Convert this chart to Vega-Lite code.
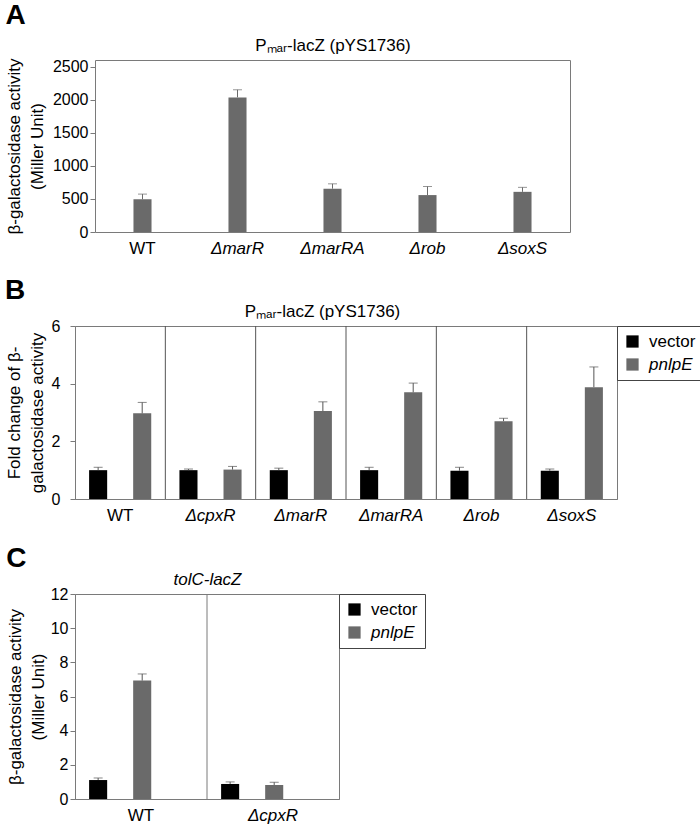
{
  "$schema": "https://vega.github.io/schema/vega-lite/v6.json",
  "padding": {"left": 4, "top": 2, "right": 0, "bottom": 0},
  "background": "white",
  "spacing": 20,
  "config": {
    "font": "Liberation Sans",
    "view": {"stroke": "#7a7a7a", "strokeWidth": 1},
    "axis": {"grid": false, "domainColor": "#7a7a7a", "tickColor": "#7a7a7a", "labelColor": "black", "titleColor": "black", "labelFontSize": 16, "titleFontSize": 17, "titleFontWeight": "normal"},
    "axisX": {"ticks": false, "labelAngle": 0, "labelFontSize": 17, "labelPadding": 8},
    "axisY": {"tickSize": 5, "labelPadding": 2, "titleLineHeight": 23, "titlePadding": 4},
    "title": {"fontWeight": "bold", "fontSize": 28, "color": "black", "anchor": "start", "frame": "bounds"},
    "legend": {"titleFontSize": 17}
  },
  "resolve": {"scale": {"color": "independent"}},
  "vconcat": [
    {
      "title": {"text": "A", "offset": 6},
      "width": 495,
      "height": 172,
      "view": {"stroke": null},
      "data": {"values": [
        {"strain": "WT", "mean": 495, "upper": 573},
        {"strain": "ΔmarR", "mean": 2035, "upper": 2150},
        {"strain": "ΔmarRA", "mean": 655, "upper": 728},
        {"strain": "Δrob", "mean": 558, "upper": 688},
        {"strain": "ΔsoxS", "mean": 607, "upper": 675}
      ]},
      "resolve": {"axis": {"x": "independent", "y": "independent"}},
      "layer": [
        {"mark": {"type": "bar", "color": "#6a6a6a"},
         "encoding": {
           "x": {"field": "strain", "type": "nominal", "sort": null, "title": null,
                 "scale": {"domain": ["WT", "ΔmarR", "ΔmarRA", "Δrob", "ΔsoxS"], "range": [20, 495], "paddingInner": 0.81, "paddingOuter": 0.405},
                 "axis": {"labelFontStyle": {"expr": "datum.value == 'WT' ? 'normal' : 'italic'"}}},
           "y": {"field": "mean", "type": "quantitative", "scale": {"domain": [0, 2500]},
                 "axis": {"values": [0, 500, 1000, 1500, 2000, 2500], "format": "d", "offset": -20, "titlePadding": 6, "title": ["β-galactosidase activity", "(Miller Unit)"]}}}},
        {"mark": {"type": "rule", "color": "#6a6a6a"},
         "encoding": {
           "x": {"field": "strain", "type": "nominal", "sort": null, "axis": null},
           "y": {"field": "mean", "type": "quantitative", "axis": null},
           "y2": {"field": "upper"}}},
        {"mark": {"type": "tick", "color": "#6a6a6a", "size": 9, "thickness": 1},
         "encoding": {
           "x": {"field": "strain", "type": "nominal", "sort": null,
                 "axis": {"orient": "top", "labels": false, "ticks": false, "domain": true, "title": "Pₘₐᵣ-lacZ (pYS1736)", "titlePadding": 6}},
           "y": {"field": "upper", "type": "quantitative",
                 "axis": {"orient": "right", "labels": false, "ticks": false, "domain": true, "title": null}}}}
      ]
    },
    {
      "title": {"text": "B", "offset": -3},
      "width": 542,
      "height": 173,
      "data": {"values": [
        {"strain": "WT", "plasmid": "vector", "mean": 1.0, "upper": 1.1},
        {"strain": "WT", "plasmid": "pnlpE", "mean": 2.97, "upper": 3.35},
        {"strain": "ΔcpxR", "plasmid": "vector", "mean": 1.0, "upper": 1.04},
        {"strain": "ΔcpxR", "plasmid": "pnlpE", "mean": 1.02, "upper": 1.13},
        {"strain": "ΔmarR", "plasmid": "vector", "mean": 1.0, "upper": 1.07},
        {"strain": "ΔmarR", "plasmid": "pnlpE", "mean": 3.05, "upper": 3.37},
        {"strain": "ΔmarRA", "plasmid": "vector", "mean": 1.0, "upper": 1.1},
        {"strain": "ΔmarRA", "plasmid": "pnlpE", "mean": 3.7, "upper": 4.02},
        {"strain": "Δrob", "plasmid": "vector", "mean": 0.98, "upper": 1.1},
        {"strain": "Δrob", "plasmid": "pnlpE", "mean": 2.7, "upper": 2.8},
        {"strain": "ΔsoxS", "plasmid": "vector", "mean": 0.98, "upper": 1.04},
        {"strain": "ΔsoxS", "plasmid": "pnlpE", "mean": 3.88, "upper": 4.58}
      ]},
      "resolve": {"axis": {"x": "independent"}},
      "layer": [
        {"mark": {"type": "bar"},
         "encoding": {
           "x": {"field": "strain", "type": "nominal", "sort": null, "title": null,
                 "scale": {"domain": ["WT", "ΔcpxR", "ΔmarR", "ΔmarRA", "Δrob", "ΔsoxS"], "paddingInner": 0, "paddingOuter": 0},
                 "axis": {"labelFontStyle": {"expr": "datum.value == 'WT' ? 'normal' : 'italic'"}}},
           "xOffset": {"field": "plasmid", "type": "nominal", "sort": null, "scale": {"domain": ["vector", "pnlpE"], "paddingInner": 0.59, "paddingOuter": 0.32}},
           "y": {"field": "mean", "type": "quantitative", "scale": {"domain": [0, 6]},
                 "axis": {"values": [0, 2, 4, 6], "titlePadding": 5, "labelPadding": 10, "title": ["Fold change of β-", "galactosidase activity"]}},
           "color": {"field": "plasmid", "type": "nominal", "sort": null,
                     "scale": {"domain": ["vector", "pnlpE"], "range": ["#000000", "#6a6a6a"]},
                     "legend": {"title": null, "orient": "right", "offset": 0, "strokeColor": "#444444", "padding": 7,
                                "symbolType": "square", "symbolSize": 150, "symbolStrokeWidth": 0, "labelFontSize": 17, "rowPadding": 5, "labelOffset": 8,
                                "labelFontStyle": {"expr": "datum.label == 'vector' ? 'normal' : 'italic'"}}}}},
        {"transform": [{"filter": "datum.plasmid == 'vector' && datum.strain != 'WT'"}],
         "mark": {"type": "rule", "color": "#555555"},
         "encoding": {
           "x": {"field": "strain", "type": "nominal", "sort": null, "bandPosition": 0,
                 "axis": {"orient": "top", "labels": false, "ticks": false, "domain": false, "title": "Pₘₐᵣ-lacZ (pYS1736)", "titlePadding": 6, "titleX": 247}}}},
        {"mark": {"type": "rule", "color": "#555555"},
         "encoding": {
           "x": {"field": "strain", "type": "nominal", "sort": null, "axis": null},
           "xOffset": {"field": "plasmid", "type": "nominal", "sort": null},
           "y": {"field": "mean", "type": "quantitative", "scale": {"domain": [0, 6]},
                 "axis": {"values": [0, 2, 4, 6], "titlePadding": 5, "labelPadding": 10, "title": ["Fold change of β-", "galactosidase activity"]}},
           "y2": {"field": "upper"}}},
        {"mark": {"type": "tick", "color": "#555555", "size": 9, "thickness": 1},
         "encoding": {
           "x": {"field": "strain", "type": "nominal", "sort": null, "axis": null},
           "xOffset": {"field": "plasmid", "type": "nominal", "sort": null},
           "y": {"field": "upper", "type": "quantitative", "scale": {"domain": [0, 6]},
                 "axis": {"values": [0, 2, 4, 6], "titlePadding": 5, "labelPadding": 10, "title": ["Fold change of β-", "galactosidase activity"]}}}}
      ]
    },
    {
      "title": {"text": "C", "offset": -3},
      "width": 264,
      "height": 205,
      "data": {"values": [
        {"strain": "WT", "plasmid": "vector", "mean": 1.11, "upper": 1.23},
        {"strain": "WT", "plasmid": "pnlpE", "mean": 6.93, "upper": 7.32},
        {"strain": "ΔcpxR", "plasmid": "vector", "mean": 0.88, "upper": 1.0},
        {"strain": "ΔcpxR", "plasmid": "pnlpE", "mean": 0.82, "upper": 0.98}
      ]},
      "resolve": {"axis": {"x": "independent"}},
      "layer": [
        {"mark": {"type": "bar"},
         "encoding": {
           "x": {"field": "strain", "type": "nominal", "sort": null, "title": null,
                 "scale": {"domain": ["WT", "ΔcpxR"], "paddingInner": 0, "paddingOuter": 0},
                 "axis": {"labelFontStyle": {"expr": "datum.value == 'WT' ? 'normal' : 'italic'"}}},
           "xOffset": {"field": "plasmid", "type": "nominal", "sort": null, "scale": {"domain": ["vector", "pnlpE"], "paddingInner": 0.667, "paddingOuter": 0.565}},
           "y": {"field": "mean", "type": "quantitative", "scale": {"domain": [0, 12]},
                 "axis": {"values": [0, 2, 4, 6, 8, 10, 12], "titlePadding": 3, "title": ["β-galactosidase activity", "(Miller Unit)"]}},
           "color": {"field": "plasmid", "type": "nominal", "sort": null,
                     "scale": {"domain": ["vector", "pnlpE"], "range": ["#000000", "#6a6a6a"]},
                     "legend": {"title": null, "orient": "right", "offset": 0, "strokeColor": "#444444", "padding": 7,
                                "symbolType": "square", "symbolSize": 150, "symbolStrokeWidth": 0, "labelFontSize": 17, "rowPadding": 5, "labelOffset": 8,
                                "labelFontStyle": {"expr": "datum.label == 'vector' ? 'normal' : 'italic'"}}}}},
        {"transform": [{"filter": "datum.plasmid == 'vector' && datum.strain != 'WT'"}],
         "mark": {"type": "rule", "color": "#7a7a7a"},
         "encoding": {
           "x": {"field": "strain", "type": "nominal", "sort": null, "bandPosition": 0,
                 "axis": {"orient": "top", "labels": false, "ticks": false, "domain": false, "title": "tolC-lacZ", "titleFontStyle": "italic", "titlePadding": 6}}}},
        {"mark": {"type": "rule", "color": "#555555"},
         "encoding": {
           "x": {"field": "strain", "type": "nominal", "sort": null, "axis": null},
           "xOffset": {"field": "plasmid", "type": "nominal", "sort": null},
           "y": {"field": "mean", "type": "quantitative", "scale": {"domain": [0, 12]},
                 "axis": {"values": [0, 2, 4, 6, 8, 10, 12], "titlePadding": 3, "title": ["β-galactosidase activity", "(Miller Unit)"]}},
           "y2": {"field": "upper"}}},
        {"mark": {"type": "tick", "color": "#555555", "size": 9, "thickness": 1},
         "encoding": {
           "x": {"field": "strain", "type": "nominal", "sort": null, "axis": null},
           "xOffset": {"field": "plasmid", "type": "nominal", "sort": null},
           "y": {"field": "upper", "type": "quantitative", "scale": {"domain": [0, 12]},
                 "axis": {"values": [0, 2, 4, 6, 8, 10, 12], "titlePadding": 3, "title": ["β-galactosidase activity", "(Miller Unit)"]}}}}
      ]
    }
  ]
}
